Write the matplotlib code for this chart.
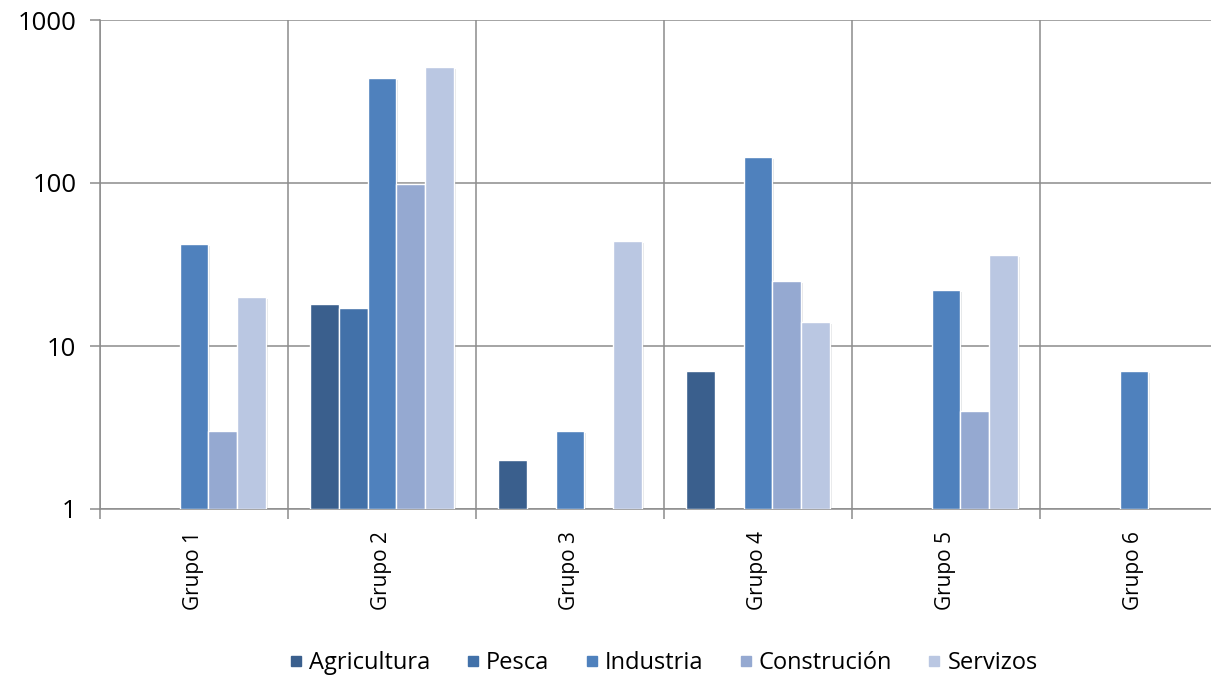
import numpy as np
import matplotlib
matplotlib.use("Agg")
import matplotlib.pyplot as plt
from matplotlib.lines import Line2D
import matplotlib.patheffects as pe

groups = ["Grupo 1", "Grupo 2", "Grupo 3", "Grupo 4", "Grupo 5", "Grupo 6"]
series = ["Agricultura", "Pesca", "Industria", "Construción", "Servizos"]
nan = np.nan
agricultura = [nan, 18, 2, 7, nan, nan]
pesca = [nan, 17, nan, nan, nan, nan]
industria = [42, 440, 3, 144, 22, 7]
construcion = [3, 99, nan, 25, 4, nan]
servizos = [20, 515, 44, 14, 36, nan]
values = [agricultura, pesca, industria, construcion, servizos]
colors = ["#3A5F8D", "#4271A9", "#4F81BD", "#95A9D1", "#BAC7E2"]
yticks = [1, 10, 100, 1000]

plt.rcParams['font.family'] = ['Open Sans', 'DejaVu Sans']
fig = plt.figure(figsize=(12.11, 6.76), dpi=100)
W, H = 1211, 676
left, right, top, bottom = 100, 1228, 20, 509
ax = fig.add_axes([left / W, (H - bottom) / H, (right - left) / W, (bottom - top) / H])

grid_c = "#8C8C8C"
x = np.arange(len(groups))
bw = 0.154
for i, (vals, c, name) in enumerate(zip(values, colors, series)):
    v = np.array(vals, dtype=float)
    offs = (i - 2) * bw
    bars = ax.bar(x + offs, v - 1, bottom=1, width=bw, color=c, edgecolor="white",
                  linewidth=1.0, zorder=3, label=name)
    for b in bars:
        b.set_path_effects([pe.SimplePatchShadow(offset=(1.2, -1.2), alpha=0.12), pe.Normal()])

ax.set_yscale("log")
ax.set_ylim(1, 1000)
ax.set_xlim(-0.5, len(groups) - 0.5)
ax.set_yticks(yticks)
ax.set_yticklabels([str(t) for t in yticks])
ax.yaxis.set_minor_locator(matplotlib.ticker.NullLocator())
ax.tick_params(axis="y", length=7, width=1.1, color=grid_c, labelsize=18.5, pad=10, labelcolor="black")

ax.set_xticks(np.arange(len(groups) + 1) - 0.5)
ax.set_xticklabels([])
ax.set_xticks(x, minor=True)
ax.set_xticklabels(groups, minor=True, rotation=90, fontsize=15)
ax.tick_params(axis="x", which="major", length=7, width=1.1, color=grid_c)
ax.tick_params(axis="x", which="minor", length=0, pad=16)

ax.grid(True, which="major", color=grid_c, linewidth=1.1, zorder=0)
ax.set_axisbelow(True)
for s in ["top", "right"]:
    ax.spines[s].set_visible(False)
for s in ["left", "bottom"]:
    ax.spines[s].set_color(grid_c)
    ax.spines[s].set_linewidth(1.1)

handles = [Line2D([], [], marker="s", linestyle="none", markersize=7.5, color=c) for c in colors]
leg = fig.legend(handles, series, loc="center", ncol=5, frameon=False,
                 bbox_to_anchor=((left + right) / 2 / W, (H - 663) / H),
                 fontsize=17, handlelength=0.5, handletextpad=0.3, columnspacing=1.55)

fig.savefig("out.png", dpi=100)
